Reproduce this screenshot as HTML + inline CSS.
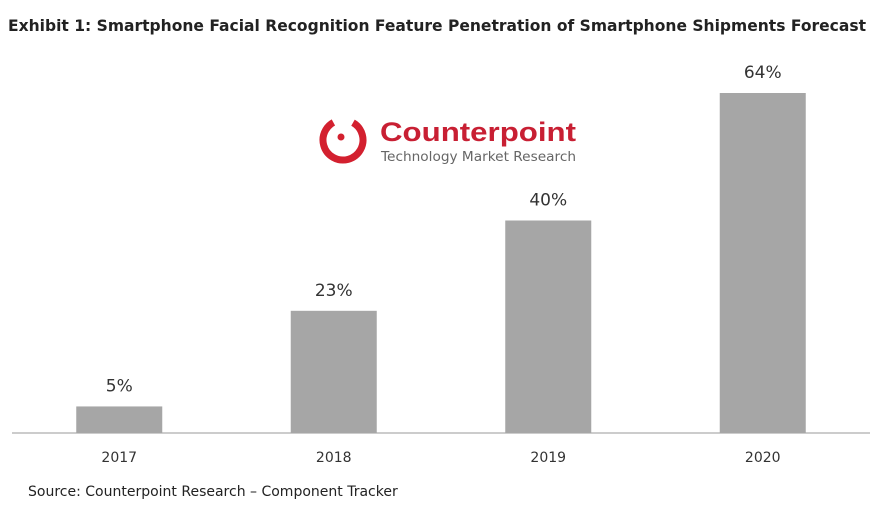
<!DOCTYPE html>
<html><head><meta charset="utf-8"><style>
body{margin:0;width:886px;height:511px;background:#fff;overflow:hidden;font-family:"DejaVu Sans","Liberation Sans",sans-serif}
</style></head><body>
<svg width="886" height="511" id="c">
<text x="8" y="31" font-size="16" font-weight="bold" fill="#222" textLength="858" lengthAdjust="spacingAndGlyphs">Exhibit 1: Smartphone Facial Recognition Feature Penetration of Smartphone Shipments Forecast</text>
<g>
<circle cx="343" cy="140" r="20" fill="none" stroke="#d3202f" stroke-width="7" stroke-dasharray="105 21" transform="rotate(-60 343 140)"/>
<circle cx="341" cy="137" r="3.5" fill="#d3202f"/>
<text x="380" y="141" font-size="27" font-weight="bold" fill="#c81f33" textLength="196" lengthAdjust="spacingAndGlyphs" font-family="Liberation Sans, sans-serif">Counterpoint</text>
<text x="381" y="161" font-size="13" fill="#666" textLength="195" lengthAdjust="spacingAndGlyphs">Technology Market Research</text>
</g>
<line x1="12" y1="433" x2="870" y2="433" stroke="#999" stroke-width="1"/>
<text x="28" y="496" font-size="14" fill="#222">Source: Counterpoint Research – Component Tracker</text>
</svg>
<script>
const categories=["2017","2018","2019","2020"];
const values=[5,23,40,64];
const svg=document.getElementById('c');
const NS="http://www.w3.org/2000/svg";
const base=433,pxPer=5.3125,x0=12,step=214.5,barW=86;
function y(v){return base-v*pxPer;}
function xc(i){return x0+step*(i+0.5);}
categories.forEach((c,i)=>{
 const r=document.createElementNS(NS,'rect');
 r.setAttribute('x',xc(i)-barW/2);r.setAttribute('y',y(values[i]));
 r.setAttribute('width',barW);r.setAttribute('height',base-y(values[i]));
 r.setAttribute('fill','#a6a6a6');
 
 
 svg.appendChild(r);
 const t=document.createElementNS(NS,'text');
 t.setAttribute('x',xc(i));t.setAttribute('y',y(values[i])-15);
 t.setAttribute('text-anchor','middle');t.setAttribute('font-size','17');t.setAttribute('fill','#333');
 t.textContent=values[i]+'%';
 
 
 svg.appendChild(t);
 const l=document.createElementNS(NS,'text');
 l.setAttribute('x',xc(i));l.setAttribute('y',462);
 l.setAttribute('text-anchor','middle');l.setAttribute('font-size','14');l.setAttribute('fill','#333');
 l.textContent=c;
 
 
 svg.appendChild(l);
});
</script>
</body></html>
